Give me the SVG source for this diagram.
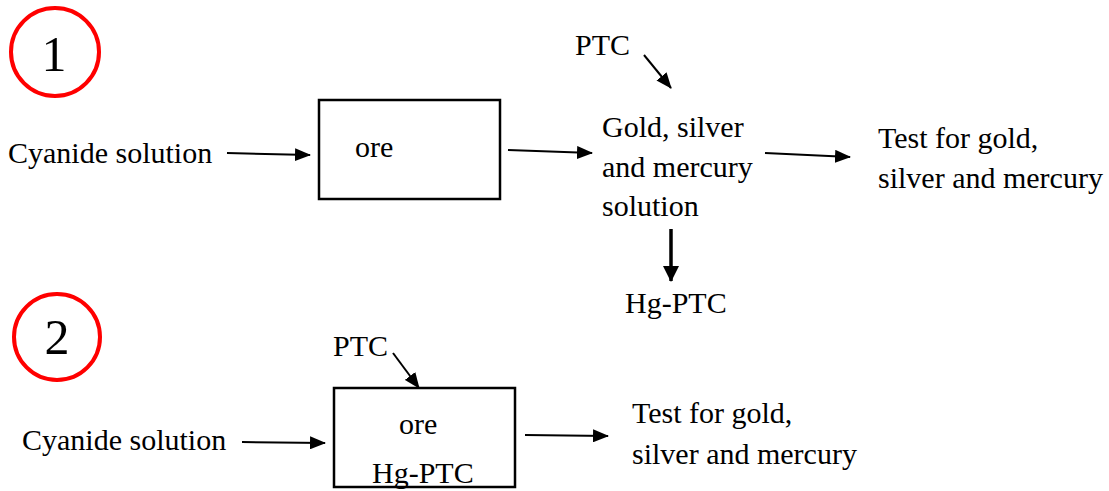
<svg xmlns="http://www.w3.org/2000/svg" width="1109" height="491" viewBox="0 0 1109 491">
  <style>
    text { font-family: 'Liberation Serif', 'DejaVu Serif', serif; font-size: 30px; fill: #000; }
    .num { font-size: 50px; text-anchor: middle; }
    .badge { fill: none; stroke: #ff0000; stroke-width: 4; }
    .box { fill: #fff; stroke: #000; stroke-width: 2.5; }
    .link { fill: none; stroke: #000; stroke-width: 2; marker-end: url(#head); }
    .link.bold { stroke-width: 3.5; marker-end: url(#headBold); }
  </style>
  <defs>
    <marker id="head" markerUnits="userSpaceOnUse" markerWidth="16" markerHeight="13" refX="15" refY="6.5" orient="auto">
      <path d="M0,0 L16,6.5 L0,13 Z" fill="#000"/>
    </marker>
    <marker id="headBold" markerUnits="userSpaceOnUse" markerWidth="16" markerHeight="16" refX="15" refY="8" orient="auto">
      <path d="M0,0 L16,8 L0,16 Z" fill="#000"/>
    </marker>
  </defs>

  <!-- process 1 -->
  <g id="badge-1">
    <circle class="badge" cx="55" cy="52" r="44"/>
    <text class="num" x="54" y="71">1</text>
  </g>
  <g id="cyanide-1"><text x="8" y="163">Cyanide solution</text></g>
  <g id="ore-1">
    <rect class="box" x="319" y="100" width="181" height="99"/>
    <text x="355" y="157">ore</text>
  </g>
  <g id="ptc-1"><text x="575" y="55">PTC</text></g>
  <g id="solution-1">
    <text x="602" y="137">Gold, silver</text>
    <text x="602" y="177">and mercury</text>
    <text x="602" y="216">solution</text>
  </g>
  <g id="test-1">
    <text x="878" y="148">Test for gold,</text>
    <text x="878" y="188">silver and mercury</text>
  </g>
  <g id="hgptc-1"><text x="625" y="313">Hg-PTC</text></g>

  <!-- process 2 -->
  <g id="badge-2">
    <circle class="badge" cx="57" cy="337" r="43"/>
    <text class="num" x="57" y="354">2</text>
  </g>
  <g id="cyanide-2"><text x="22" y="450">Cyanide solution</text></g>
  <g id="ptc-2"><text x="333" y="356">PTC</text></g>
  <g id="ore-2">
    <rect class="box" x="334" y="388" width="181" height="99"/>
    <text x="399" y="434">ore</text>
    <text x="372" y="483">Hg-PTC</text>
  </g>
  <g id="test-2">
    <text x="632" y="423">Test for gold,</text>
    <text x="632" y="464">silver and mercury</text>
  </g>

  <g id="connectors">
    <path class="link" d="M227,153 L310,155"/>
    <path class="link" d="M508,150 L592,153"/>
    <path class="link" d="M644,55 L671,88"/>
    <path class="link" d="M765,153 L850,157"/>
    <path class="link bold" d="M671,229 L671,281"/>
    <path class="link" d="M393,353 L419,388"/>
    <path class="link" d="M242,442 L325,443"/>
    <path class="link" d="M525,435 L608,436"/>
  </g>
</svg>
